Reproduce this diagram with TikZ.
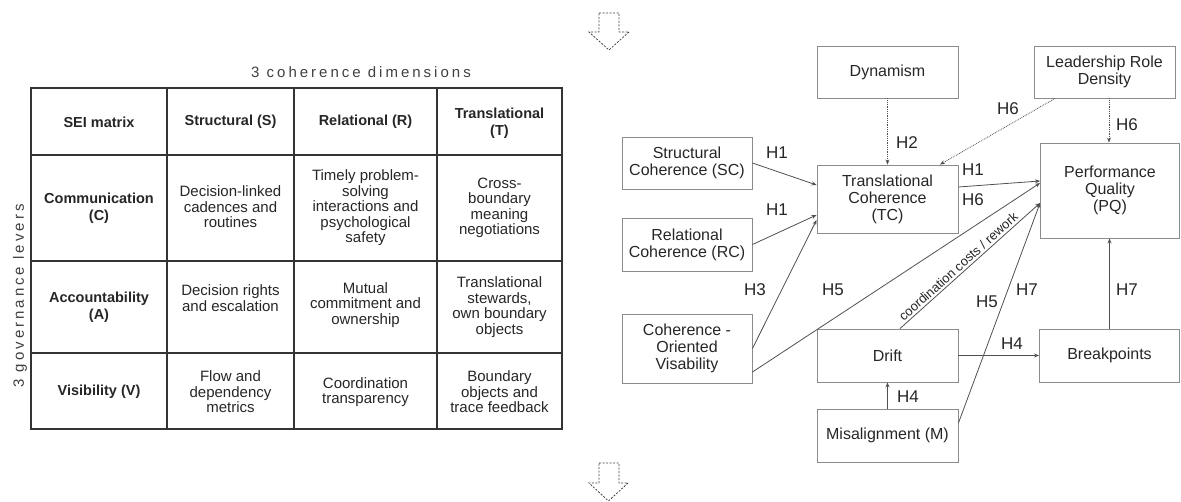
\documentclass[tikz,border=0pt]{standalone}
\usepackage{fontspec}
\setmainfont{Liberation Sans}
\usetikzlibrary{arrows.meta}
\definecolor{txt}{HTML}{262626}
\definecolor{boxc}{HTML}{8C8C8C}
\definecolor{linec}{HTML}{505050}
\begin{document}
\begin{tikzpicture}[x=1pt,y=-1pt,
  cell/.style={align=center,inner sep=0pt,text=txt,font=\fontsize{15}{15.5}\selectfont},
  hcell/.style={align=center,inner sep=0pt,text=txt,font=\fontsize{14.5}{17}\selectfont\bfseries},
  box/.style={draw=boxc,line width=0.9pt,align=center,inner sep=0pt,text=txt,font=\fontsize{16}{17}\selectfont},
  conn/.style={draw=linec,line width=0.8pt,-{Stealth[length=5pt,width=4pt]}},
  dconn/.style={conn,densely dotted},
  hl/.style={text=txt,font=\fontsize{17}{17}\selectfont,inner sep=0pt},
  tablegrid/.style={draw=black!80,line width=1.6pt},
  blockarrow/.style={draw=black!75,dash pattern=on 2pt off 1.5pt,line width=0.8pt},
  spaced/.style={text=black!75,inner sep=0pt,font=\fontsize{15}{15}\selectfont\addfontfeatures{LetterSpace=20}}
]
\useasboundingbox (0,0) rectangle (1181,502);

% ---------- table ----------
\node[spaced] (title) at (361,72) {3 coherence dimensions};
\node[spaced,rotate=90] (levers) at (20,296) {3 governance levers};

\draw[tablegrid] (31,88) rectangle (562,429);
\draw[tablegrid] (167,88) -- (167,429) (294,88) -- (294,429) (437,88) -- (437,429);
\draw[tablegrid] (31,155) -- (562,155) (31,261) -- (562,261) (31,353) -- (562,353);

\node[hcell] (h11) at (99,122) {SEI matrix};
\node[hcell] (h12) at (230.5,122) {Structural (S)};
\node[hcell] (h13) at (365.5,122) {Relational (R)};
\node[hcell] (h14) at (499.5,123) {Translational\\(T)};

\node[hcell] (c1) at (99,208) {Communication\\(C)};
\node[cell] (c2) at (230.5,207) {Decision-linked\\cadences and\\routines};
\node[cell] (c3) at (365.5,208) {Timely problem-\\solving\\interactions and\\psychological\\safety};
\node[cell] (c4) at (499.5,208) {Cross-\\boundary\\meaning\\negotiations};

\node[hcell] (a1) at (99,307) {Accountability\\(A)};
\node[cell] (a2) at (230.5,298) {Decision rights\\and escalation};
\node[cell] (a3) at (365.5,305) {Mutual\\commitment and\\ownership};
\node[cell] (a4) at (499.5,307) {Translational\\stewards,\\own boundary\\objects};

\node[hcell] (v1) at (99,392) {Visibility (V)};
\node[cell] (v2) at (230.5,392) {Flow and\\dependency\\metrics};
\node[cell] (v3) at (365.5,392) {Coordination\\transparency};
\node[cell] (v4) at (499.5,392) {Boundary\\objects and\\trace feedback};

% ---------- dashed block arrows ----------
\draw[blockarrow] (599,13) -- (619,13) -- (619,32) -- (629,32) -- (609,50) -- (589,32) -- (599,32) -- cycle;
\draw[blockarrow] (599,463) -- (619,463) -- (619,483) -- (628,483) -- (608.5,501) -- (589,483) -- (599,483) -- cycle;

% ---------- model boxes ----------
\node[box,minimum width=141pt,minimum height=52pt] (dyn) at (887.5,72) {Dynamism};
\node[box,minimum width=141pt,minimum height=52pt] (lrd) at (1104.5,72) {Leadership Role\\Density};
\node[box,minimum width=130pt,minimum height=52pt] (sc) at (687,163) {Structural\\Coherence (SC)};
\node[box,minimum width=141pt,minimum height=68pt] (tc) at (887.5,199) {Translational\\Coherence\\(TC)};
\node[box,minimum width=139pt,minimum height=95pt] (pq) at (1110,190.5) {Performance\\Quality\\(PQ)};
\node[box,minimum width=130pt,minimum height=53pt] (rc) at (687,244.5) {Relational\\Coherence (RC)};
\node[box,minimum width=130pt,minimum height=69pt] (cov) at (687,348.5) {Coherence -\\Oriented\\Visability};
\node[box,minimum width=141pt,minimum height=53pt] (drift) at (887.5,355.5) {Drift};
\node[box,minimum width=141pt,minimum height=53pt] (mis) at (887.5,435.5) {Misalignment (M)};
\node[box,minimum width=140pt,minimum height=53pt] (bp) at (1109.5,355.5) {Breakpoints};

% ---------- connectors ----------
\draw[conn] (sc.east) -- ([yshift=14pt]tc.west);
\draw[conn] (rc.east) -- ([yshift=-16pt]tc.west);
\draw[conn] (cov.east) -- ([yshift=-21pt]tc.west);
\draw[conn] ([yshift=-23.5pt]cov.east) -- ([yshift=7.5pt]pq.west);
\draw[conn] ([yshift=12pt]tc.east) -- ([yshift=9.5pt]pq.west);
\draw[dconn] (dyn.south) -- (tc.north);
\draw[dconn] ([xshift=-49.5pt]lrd.south) -- ([xshift=52.5pt]tc.north);
\draw[dconn] ([xshift=4.5pt]lrd.south) -- ([xshift=-1pt]pq.north);
\draw[conn] ([xshift=12.5pt]drift.north) -- node[sloped,above=2pt,pos=0.45,inner sep=0pt,text=txt,font=\fontsize{13}{13}\selectfont] (cc) {coordination costs / rework} ([yshift=-12.5pt]pq.west);
\draw[conn] ([yshift=12.5pt]mis.east) -- ([yshift=-12.5pt]pq.west);
\draw[conn] (drift.east) -- (bp.west);
\draw[conn] (mis.north) -- (drift.south);
\draw[conn] (bp.north) -- ([xshift=-0.5pt]pq.south);

% ---------- hypothesis labels ----------
\node[hl] (l1) at (777,153) {H1};
\node[hl] (l2) at (777,210) {H1};
\node[hl] (l3) at (755,290) {H3};
\node[hl] (l4) at (833,290) {H5};
\node[hl] (l5) at (907,143) {H2};
\node[hl] (l6) at (1008,109) {H6};
\node[hl] (l7) at (1127,125) {H6};
\node[hl] (l8) at (973,170) {H1};
\node[hl] (l9) at (973,200) {H6};
\node[hl] (l10) at (987,302) {H5};
\node[hl] (l11) at (1027,290) {H7};
\node[hl] (l12) at (1127,290) {H7};
\node[hl] (l13) at (1012,344) {H4};
\node[hl] (l14) at (908,397) {H4};
\end{tikzpicture}
\end{document}
